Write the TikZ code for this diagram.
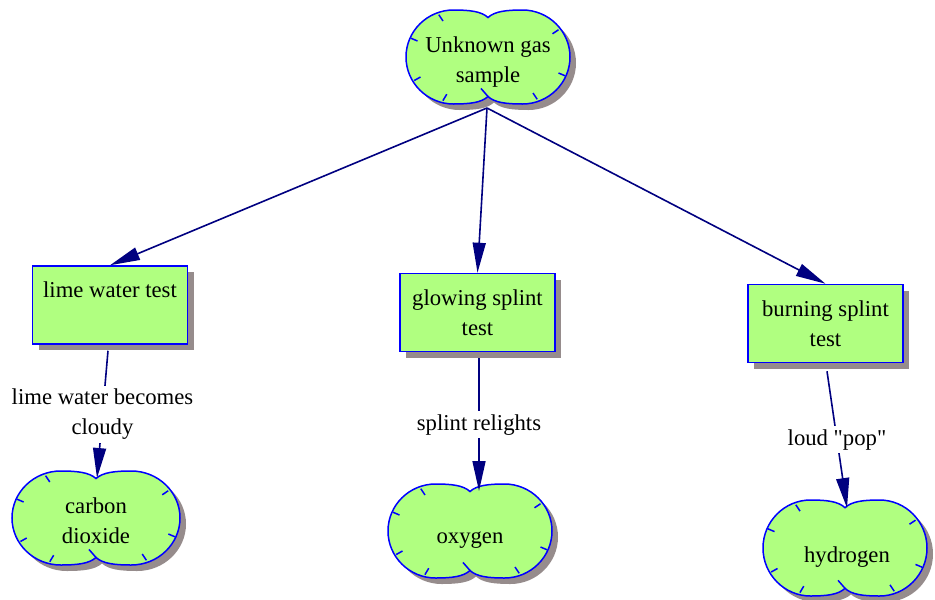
\documentclass[tikz,border=0pt]{standalone}
\usepackage{fontspec}
\setmainfont{Liberation Serif}
\usetikzlibrary{arrows.meta,backgrounds,calc,shadows}
\definecolor{navy}{RGB}{0,0,128}
\definecolor{boxfill}{RGB}{176,255,128}
\definecolor{shadowc}{RGB}{150,140,140}
\definecolor{outlinec}{RGB}{0,0,255}
\tikzset{
  txt/.style={font={\fontsize{22.7}{30}\selectfont}, align=center},
  testbox/.style={txt, draw=outlinec, line width=1.5pt, fill=boxfill,
    minimum width=155pt, minimum height=78pt, inner sep=0pt,
    drop shadow={shadow xshift=6pt, shadow yshift=-6pt, fill=shadowc, opacity=1}},
  cloudtxt/.style={txt, inner sep=0pt},
  cloudedge/.style={draw=outlinec, line width=1.5pt},
  conn/.style={draw=navy, line width=1.6pt, -{Triangle[length=30pt,width=13pt]}},
  lbl/.style={txt, fill=white, inner sep=3pt},
}
% cloud outline around the origin, half width #1, half height #2
\newcommand\cloudpath[2]{(0,{-0.84*#2})
  .. controls ({-0.08*#1},{-0.97*#2}) and ({-0.22*#1},{-#2}) .. ({-0.42*#1},{-#2})
  .. controls ({-0.74*#1},{-#2}) and ({-#1},{-0.55*#2}) .. ({-#1},0)
  .. controls ({-#1},{0.55*#2}) and ({-0.74*#1},{#2}) .. ({-0.42*#1},{#2})
  .. controls ({-0.22*#1},{#2}) and ({-0.08*#1},{0.97*#2}) .. (0,{0.84*#2})
  .. controls ({0.08*#1},{0.97*#2}) and ({0.22*#1},{#2}) .. ({0.42*#1},{#2})
  .. controls ({0.74*#1},{#2}) and ({#1},{0.55*#2}) .. ({#1},0)
  .. controls ({#1},{-0.55*#2}) and ({0.74*#1},{-#2}) .. ({0.42*#1},{-#2})
  .. controls ({0.22*#1},{-#2}) and ({0.08*#1},{-0.97*#2}) .. (0,{-0.84*#2}) -- cycle}
\newcommand\ctick[4]{\draw[cloudedge] ({#1*#3},{#2*#4}) -- ++({-7*#1},{-7*#2});}
\newcommand\gasshape[3]{%
  \begin{scope}[shift={(#1)}]
  \fill[shadowc, shift={(6,6)}] \cloudpath{#2}{#3};
  \filldraw[cloudedge, fill=boxfill] \cloudpath{#2}{#3};
  \ctick{-0.6}{-0.9}{#2}{#3}
  \ctick{-0.94}{-0.4}{#2}{#3}
  \ctick{-0.9}{0.5}{#2}{#3}
  \ctick{-0.55}{0.93}{#2}{#3}
  \ctick{0.86}{-0.58}{#2}{#3}
  \ctick{0.94}{0.4}{#2}{#3}
  \ctick{0.6}{0.9}{#2}{#3}
  \draw[cloudedge] (0,{0.84*#3}) -- ++(-7,-8);
  \end{scope}
}
\begin{document}
\begin{tikzpicture}[x=1pt,y=-1pt]
\useasboundingbox (0,0) rectangle (935,600);
% cloud centres
\coordinate (gasc) at (488,57);
\coordinate (co2c) at (96,518);
\coordinate (oxyc) at (470,531);
\coordinate (hydc) at (845,548);
% cloud texts
\node[cloudtxt] (gas) at (488,62) {Unknown gas\\sample};
\node[cloudtxt] (co2) at (96,521) {carbon\\dioxide};
\node[cloudtxt] (oxy) at (470,540) {oxygen};
\node[cloudtxt] (hyd) at (847,557) {hydrogen};
% boxes
\node[testbox] (lime) at (110,305) {lime water test\\\mbox{}};
\node[testbox] (glow) at (477.5,312.5) {glowing splint\\test};
\node[testbox] (burn) at (825.5,323.5) {burning splint\\test};
\begin{scope}[on background layer]
  \gasshape{gasc}{82}{47}
  \gasshape{co2c}{84}{47}
  \gasshape{oxyc}{82}{47}
  \gasshape{hydc}{82}{48}
\end{scope}
% connectors
\coordinate (gasb) at ($(gasc)+(-1,51)$);
\draw[conn] (gasb) -- (lime.north);
\draw[conn] (gasb) -- (glow.north);
\draw[conn] (gasb) -- (burn.north);
\draw[conn] ($(lime.south)+(-2,6)$) -- node[lbl]{lime water becomes\\cloudy} ($(co2c)+(1,-40)$);
\draw[conn] ($(glow.south)+(1.5,6)$) -- node[lbl]{splint relights} ($(oxyc)+(9,-40)$);
\draw[conn] ($(burn.south)+(1.5,8)$) -- node[lbl]{loud \textquotedbl pop\textquotedbl} ($(hydc)+(2,-40)$);
\end{tikzpicture}
\end{document}
